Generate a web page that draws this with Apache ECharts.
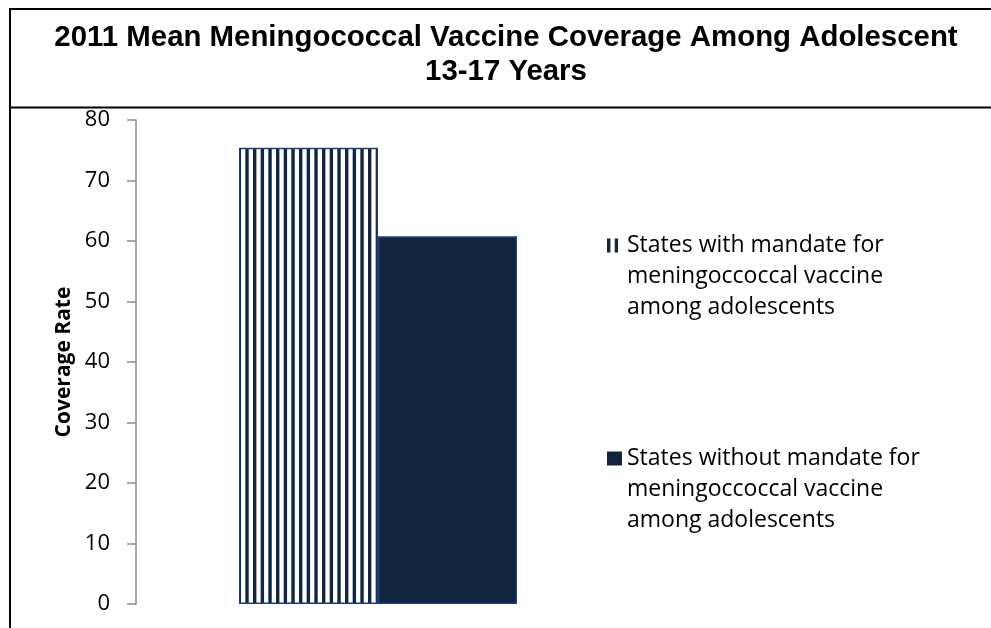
<!DOCTYPE html>
<html>
<head>
<meta charset="UTF-8">
<script src="https://cdn.jsdelivr.net/npm/echarts@6/dist/echarts.min.js"></script>
<title>Meningococcal Vaccine Coverage</title>
<style>
    html, body { margin: 0; padding: 0; background: #fff; }
    #chart { width: 991px; height: 628px; }
</style>
</head>
<body>
<div id="chart"></div>
<script>
    // data
    const categories = [''];
    const seriesNames = [
        'States with mandate for\nmeningoccoccal vaccine\namong adolescents',
        'States without mandate for\nmeningoccoccal vaccine\namong adolescents'
    ];
    const withMandate = [75.4];
    const withoutMandate = [60.8];
    const yMin = 0, yMax = 80, yStep = 10;

    const navy = '#12253f';
    const edge = '#1f3b78';

    // vertical stripe pattern for the first bar
    const pat = document.createElement('canvas');
    pat.width = 23; pat.height = 8;
    const ctx = pat.getContext('2d');
    ctx.fillStyle = '#fff';
    ctx.fillRect(0, 0, 23, 8);
    ctx.fillStyle = navy;
    [0, 7.67, 15.33].forEach(x => ctx.fillRect(x, 0, 3.4, 8));

    // two blank lines in front so the icon sits on the first text line
    const legendBase = {
        left: 607, padding: 0, icon: 'rect',
        itemWidth: 15, itemHeight: 14,
        itemStyle: { borderWidth: 0 },
        formatter: name => '\n\n' + name,
        textStyle: { fontFamily: 'Open Sans', fontSize: 23, color: '#000', lineHeight: 31 }
    };

    const chart = echarts.init(document.getElementById('chart'));
    chart.setOption({
        animation: false,
        title: {
            text: '2011 Mean Meningococcal Vaccine Coverage Among Adolescent\n13-17 Years',
            left: 501,
            top: 16,
            textAlign: 'center',
            textStyle: {
                fontFamily: 'Liberation Sans', fontWeight: 'bold',
                fontSize: 29.4, lineHeight: 34, color: '#000'
            }
        },
        graphic: [
            { type: 'polyline', shape: { points: [[1000, 9], [10, 9], [10, 640]] },
              style: { stroke: '#000', lineWidth: 2, fill: null } },
            { type: 'line', shape: { x1: 10, y1: 107.5, x2: 1000, y2: 107.5 },
              style: { stroke: '#000', lineWidth: 2 } }
        ],
        legend: [
            Object.assign({ data: [seriesNames[0]], top: 168 }, legendBase),
            Object.assign({ data: [seriesNames[1]], top: 381 }, legendBase)
        ],
        grid: { left: 136, top: 120, right: 371, bottom: 24 },
        xAxis: {
            type: 'category',
            data: categories,
            axisLine: { show: false },
            axisTick: { show: false },
            axisLabel: { show: false }
        },
        yAxis: {
            type: 'value',
            min: yMin, max: yMax, interval: yStep,
            name: 'Coverage Rate',
            nameLocation: 'middle',
            nameRotate: 90,
            nameGap: 61,
            nameMoveOverlap: false,
            nameTextStyle: { fontFamily: 'Open Sans', fontWeight: 'bold', fontSize: 21, color: '#000' },
            axisLine: { show: true, lineStyle: { color: '#8c8c8c', width: 1.5 } },
            axisTick: { show: true, length: 9, lineStyle: { color: '#8c8c8c', width: 1.5 } },
            axisLabel: { margin: 26, fontFamily: 'Open Sans', fontSize: 22, color: '#000' },
            splitLine: { show: false }
        },
        series: [
            {
                name: seriesNames[0], type: 'bar', data: withMandate,
                barWidth: 139, barGap: '0%',
                itemStyle: { color: { image: pat, repeat: 'repeat' }, borderColor: edge, borderWidth: 1.5 }
            },
            {
                name: seriesNames[1], type: 'bar', data: withoutMandate,
                barWidth: 139,
                itemStyle: { color: navy, borderColor: edge, borderWidth: 1.5 }
            }
        ]
    });
</script>
</body>
</html>
